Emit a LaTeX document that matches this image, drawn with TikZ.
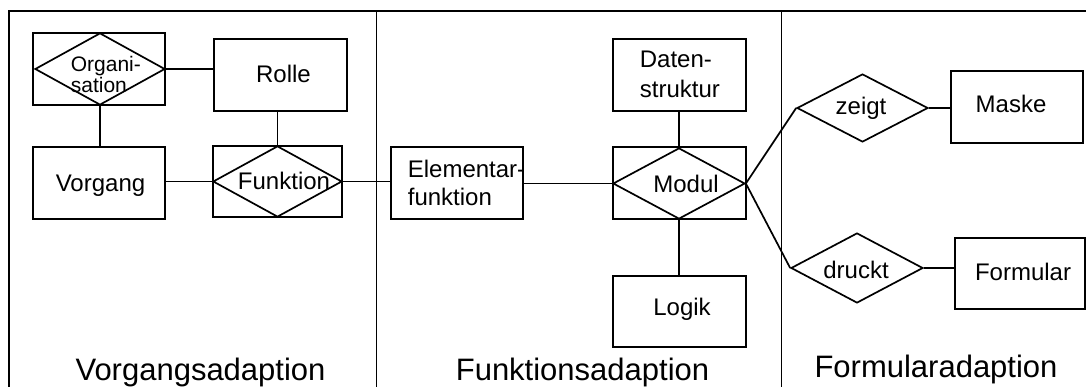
\documentclass[tikz,border=0pt]{standalone}
\usepackage{fontspec}
\setmainfont{Liberation Sans}
\usetikzlibrary{shapes.geometric}
\begin{document}
\begin{tikzpicture}[x=1pt,y=-1pt,line width=1.7pt,
  box/.style={draw,rectangle,inner sep=0pt},
  rel/.style={draw,diamond,inner sep=0pt},
  txt/.style={font=\fontsize{24}{30}\selectfont,inner sep=0pt,anchor=base},
  txtm/.style={inner sep=0pt,align=left,anchor=west},
  lbl/.style={font=\fontsize{31}{37}\selectfont,inner sep=0pt,anchor=base}]
\useasboundingbox (0,0) rectangle (1086,387);
% frame
\draw (9,387) -- (9,11) -- (1086,11);
\draw (376.5,11) -- (376.5,387);
\draw (781.5,11) -- (781.5,387);
% boxes
\node[box,minimum width=132pt,minimum height=72pt] (orgbox) at (99,69) {};
\node[box,minimum width=133pt,minimum height=72pt] (rolle) at (280.5,75) {};
\node[box,minimum width=132pt,minimum height=72pt] (vorgang) at (99,183) {};
\node[box,minimum width=129pt,minimum height=71pt] (funkbox) at (277.5,181.5) {};
\node[box,minimum width=132pt,minimum height=72pt] (elem) at (457,183) {};
\node[box,minimum width=133pt,minimum height=72pt] (daten) at (679.5,75) {};
\node[box,minimum width=133pt,minimum height=72pt] (modbox) at (679.5,183) {};
\node[box,minimum width=133pt,minimum height=71pt] (logik) at (679.5,311.5) {};
\node[box,minimum width=132pt,minimum height=72pt] (maske) at (1017,107) {};
\node[box,minimum width=130pt,minimum height=71pt] (formular) at (1020,273.5) {};
% diamonds
\node[rel,minimum width=130pt,minimum height=72pt] (orgd) at (100,69) {};
\node[rel,minimum width=129pt,minimum height=71pt] (funkd) at (277.5,181.5) {};
\node[rel,minimum width=132pt,minimum height=71pt] (modd) at (679,183.5) {};
\node[rel,minimum width=131pt,minimum height=68pt] (zeigt) at (862.5,108) {};
\node[rel,minimum width=132pt,minimum height=70pt] (druckt) at (857,268) {};
% connectors
\draw (orgd.east) -- (orgd.east -| rolle.west);
\draw (orgd.south) -- (orgd.south |- vorgang.north);
\draw (funkd.north) -- (funkd.north |- rolle.south);
\draw (funkd.west -| vorgang.east) -- (funkd.west);
\draw (funkd.east) -- (funkd.east -| elem.west);
\draw (modd.west -| elem.east) -- (modd.west);
\draw (modd.north) -- (modd.north |- daten.south);
\draw (modd.south) -- (modd.south |- logik.north);
\draw (modd.east) -- (zeigt.west);
\draw (modd.east) -- (druckt.west);
\draw (zeigt.east) -- (zeigt.east -| maske.west);
\draw (druckt.east) -- (druckt.east -| formular.west);
% texts
\node[txtm,font=\fontsize{21}{19}\selectfont] (t-org) at (70,74.6) {Organi-\\sation};
\node[txt] (t-rolle) at (283.5,83) {Rolle};
\node[txt] (t-vorgang) at (100.5,192) {Vorgang};
\node[txt] (t-funk) at (284,190) {Funktion};
\node[txtm,font=\fontsize{24}{28}\selectfont] (t-elem) at (407,183) {Elementar-\\funktion};
\node[txtm,font=\fontsize{24}{30}\selectfont] (t-daten) at (639,74.4) {Daten-\\struktur};
\node[txt] (t-modul) at (686,193) {Modul};
\node[txt] (t-logik) at (682,315) {Logik};
\node[txt] (t-zeigt) at (861,115) {zeigt};
\node[txt] (t-maske) at (1011,113) {Maske};
\node[txt] (t-druckt) at (856,278) {druckt};
\node[txt] (t-formular) at (1023,280) {Formular};
\node[lbl] (l-vorg) at (200.5,380.5) {Vorgangsadaption};
\node[lbl] (l-funk) at (582.5,380) {Funktionsadaption};
\node[lbl] (l-form) at (936,377) {Formularadaption};
\end{tikzpicture}
\end{document}
